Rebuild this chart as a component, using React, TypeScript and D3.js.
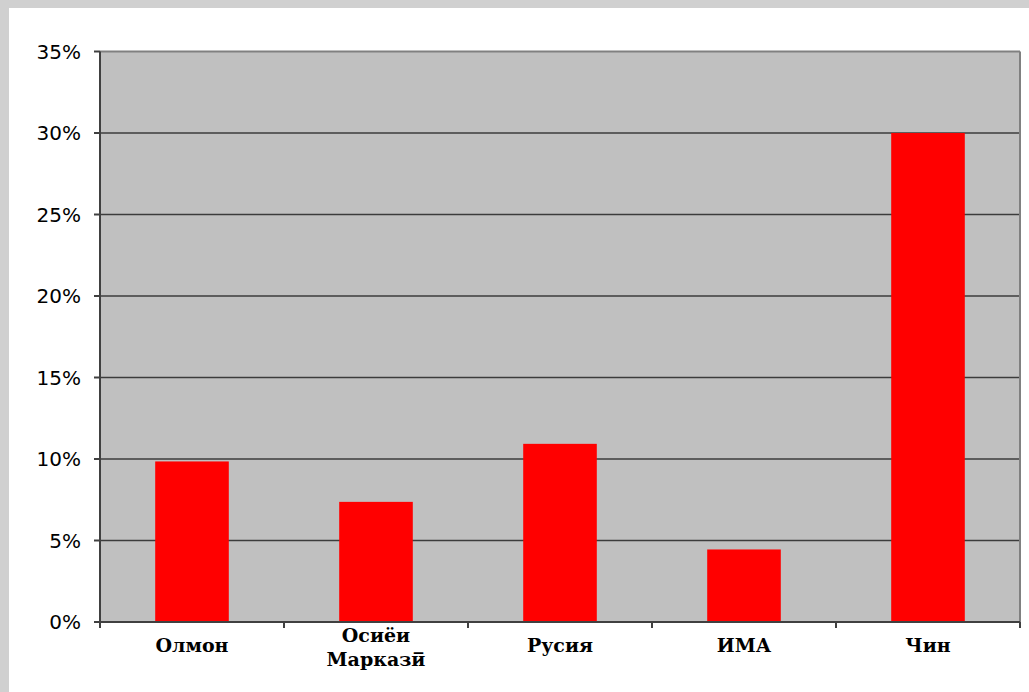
import React from "react";
import * as d3 from "d3";

const categories = ["Олмон", "Осиёи Маркази̅", "Русия", "ИМА", "Чин"];
const categoryLines = [["Олмон"], ["Осиёи", "Маркази̅"], ["Русия"], ["ИМА"], ["Чин"]];
const values = [9.85, 7.37, 10.93, 4.45, 30.0];
const yTicks = [0, 5, 10, 15, 20, 25, 30, 35];

export default function App() {
  const W = 1029, H = 692;
  const left = 100, right = 1020, top = 51.5, bottom = 622;
  const x = d3.scaleBand<string>().domain(categories).range([left, right]).paddingInner(0.6).paddingOuter(0.3);
  const xb = d3.scaleBand<string>().domain(categories).range([left, right]);
  const y = d3.scaleLinear().domain([0, 35]).range([bottom, top]);

  return (
    <svg width={W} height={H} style={{ position: "absolute", left: 0, top: 0 }}>
      <rect x={0} y={0} width={W} height={H} fill="#d0d0d0" />
      <rect x={9} y={8} width={W - 9} height={H - 8} fill="#ffffff" />
      <rect x={left} y={top} width={right - left} height={bottom - top} fill="#c0c0c0" />
      {yTicks.filter(t => t > 0 && t < 35).map(t => (
        <line key={t} x1={left} x2={right} y1={y(t)} y2={y(t)} stroke="#3c3c3c" strokeWidth={1.5} />
      ))}
      <line x1={left} x2={right} y1={top} y2={top} stroke="#808080" strokeWidth={2} />
      <line x1={right} x2={right} y1={top} y2={bottom} stroke="#808080" strokeWidth={2} />
      {categories.map((c, i) => (
        <rect key={c} x={x(c)} y={y(values[i])} width={x.bandwidth()} height={bottom - y(values[i])} fill="#ff0000" />
      ))}
      <line x1={left} x2={left} y1={top} y2={bottom} stroke="#404040" strokeWidth={2} />
      <line x1={left} x2={right} y1={bottom} y2={bottom} stroke="#404040" strokeWidth={2} />
      {yTicks.map(t => (
        <g key={t}>
          <line x1={left - 6} x2={left} y1={y(t)} y2={y(t)} stroke="#404040" strokeWidth={2} />
          <text x={81} y={y(t)} dy="0.36em" textAnchor="end" fontFamily="DejaVu Sans" fontSize={20} fill="#000">{t}%</text>
        </g>
      ))}
      {categories.map((c, i) => (
        <line key={"t" + c} x1={(xb(c) as number)} x2={(xb(c) as number)} y1={bottom} y2={bottom + 6} stroke="#404040" strokeWidth={2} />
      ))}
      <line x1={right} x2={right} y1={bottom} y2={bottom + 6} stroke="#404040" strokeWidth={2} />
      {categories.map((c, i) => {
        const cx = (xb(c) as number) + xb.bandwidth() / 2;
        const lines = categoryLines[i];
        const y0 = lines.length === 1 ? 652 : 642;
        return (
          <text key={"l" + c} x={cx} y={y0} textAnchor="middle" fontFamily="DejaVu Serif" fontWeight="bold" fontSize={19} fill="#000">
            {lines.map((l, j) => (
              <tspan key={j} x={cx} y={y0 + j * 24}>{l}</tspan>
            ))}
          </text>
        );
      })}
    </svg>
  );
}
